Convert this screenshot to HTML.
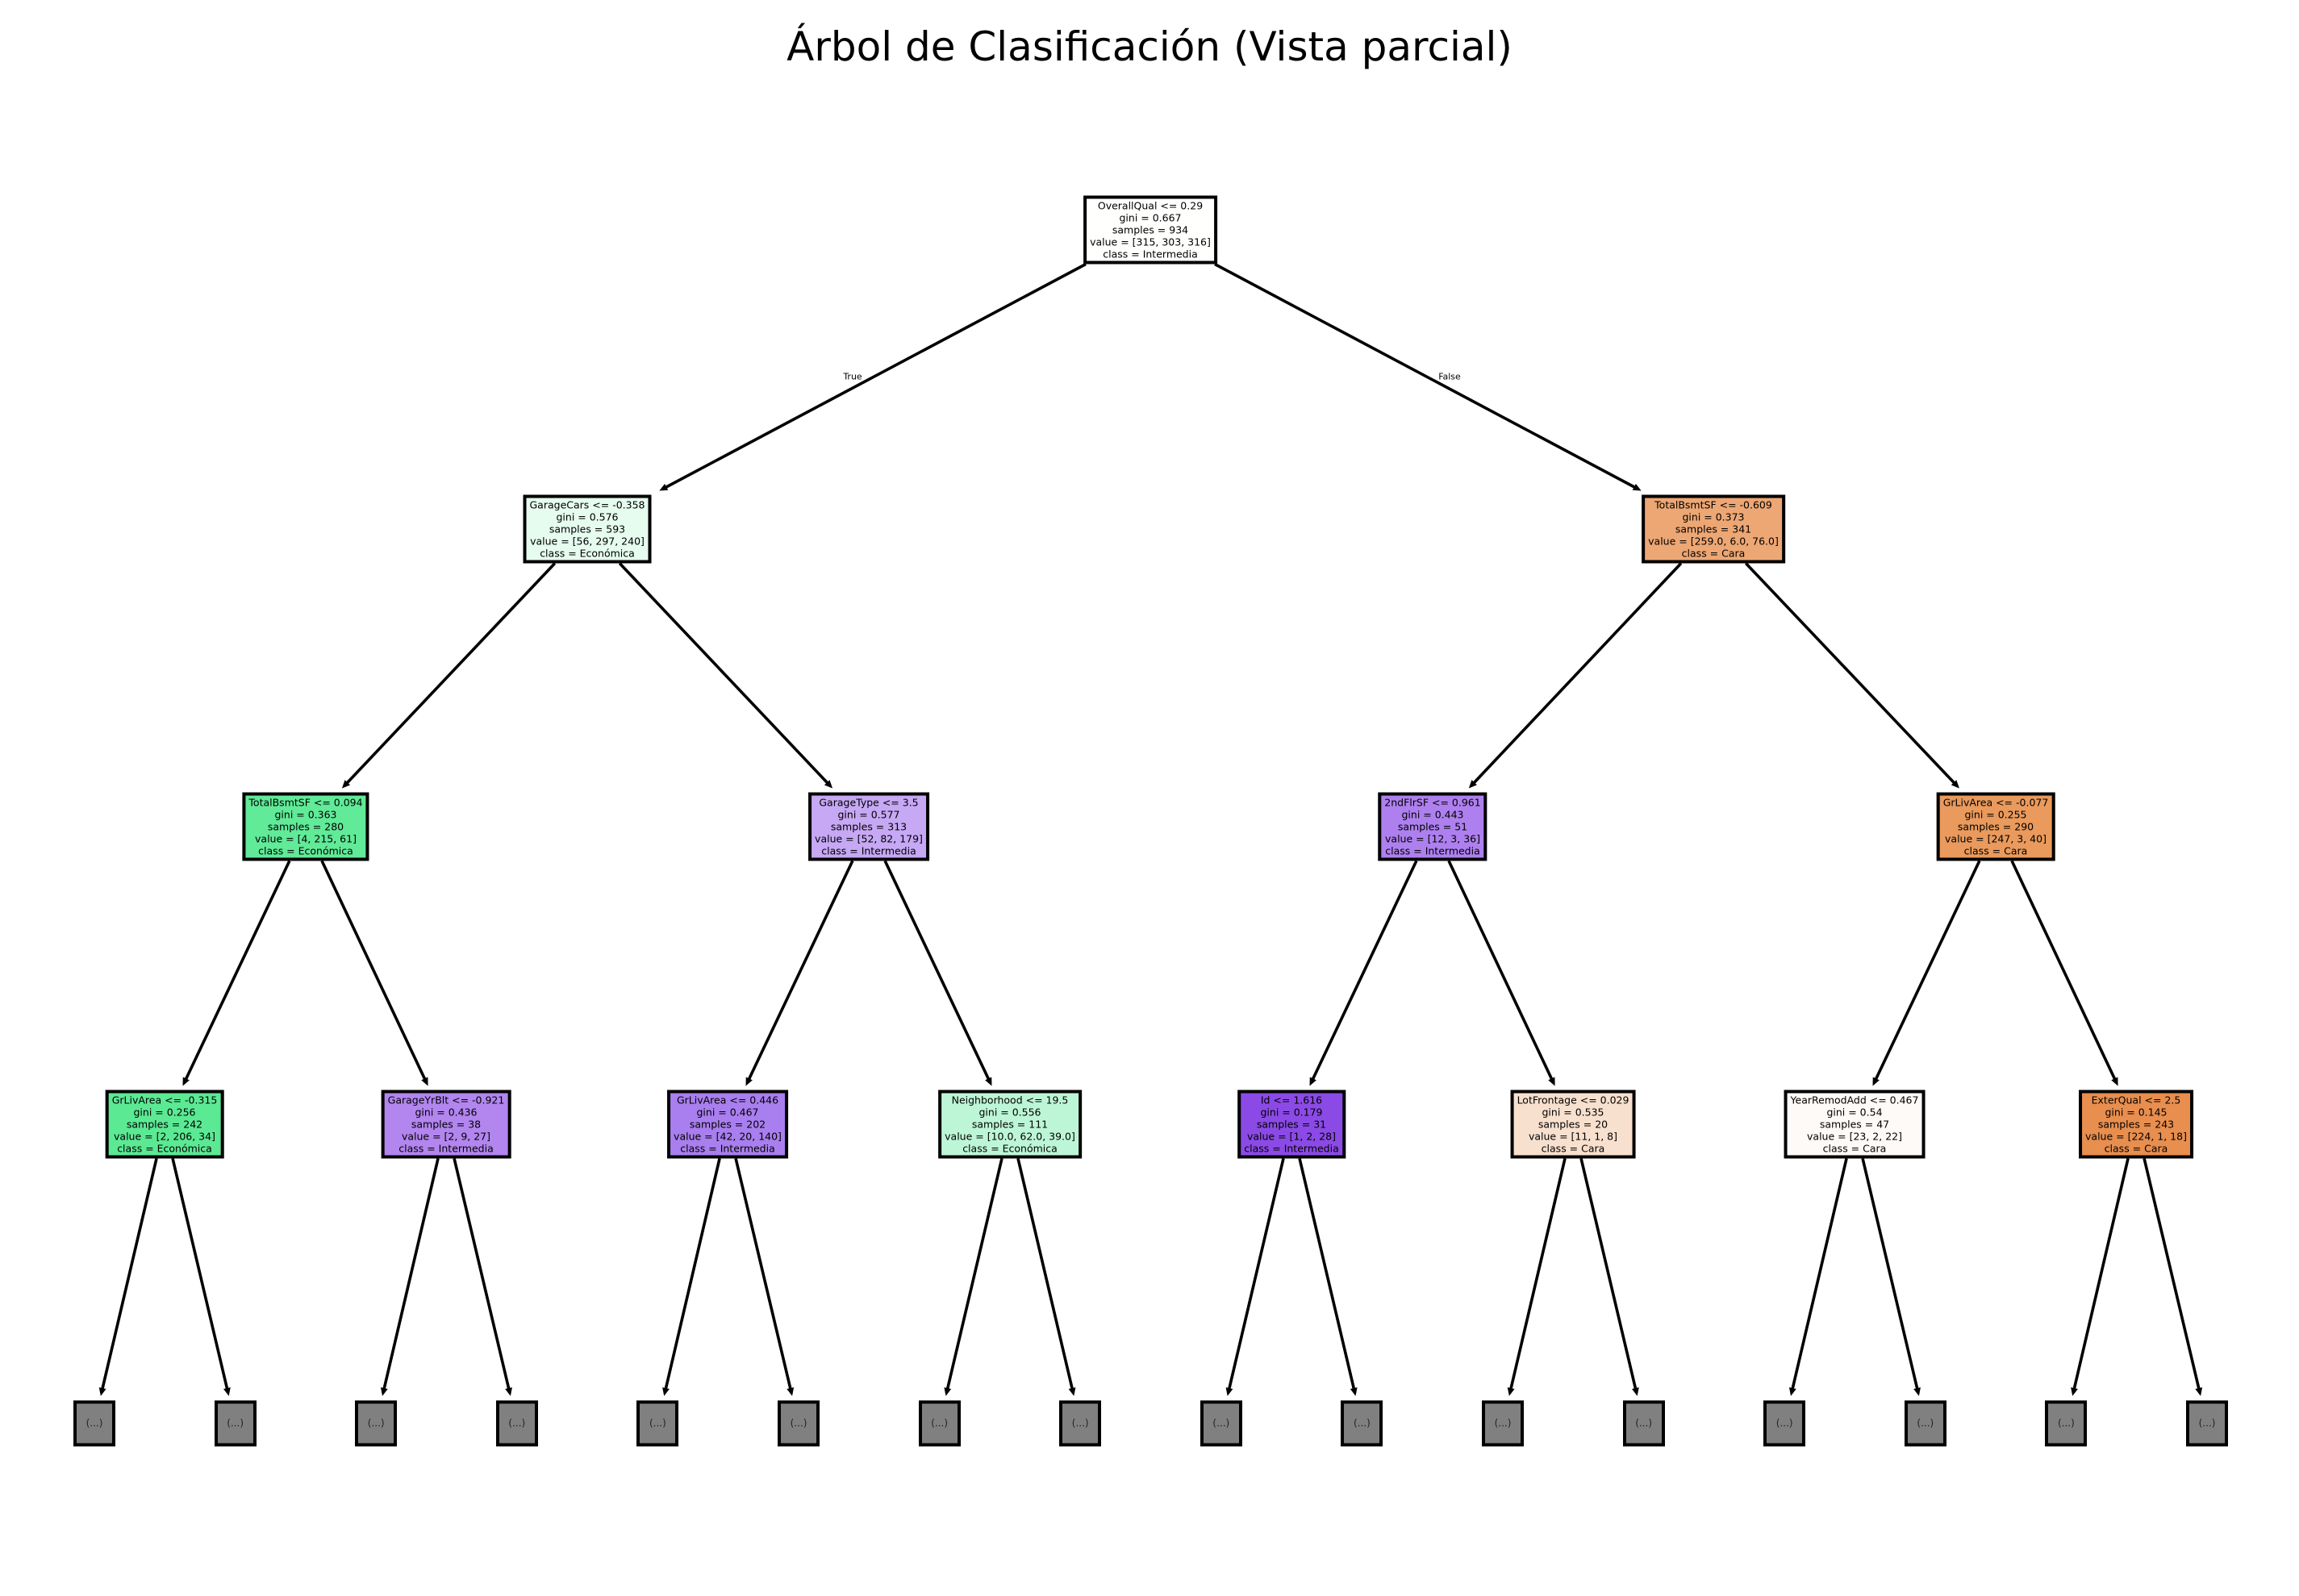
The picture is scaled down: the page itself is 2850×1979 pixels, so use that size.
<!DOCTYPE html>
<html><head><meta charset="utf-8">
<style>
html,body{margin:0;padding:0;background:#fff;}
body{width:2850px;height:1979px;position:relative;overflow:hidden;font-family:"DejaVu Sans","Liberation Sans",sans-serif;}
.n{position:absolute;transform:translate(-50%,-50%);border:4px solid #000;padding:1px 4px;font-size:12.5px;line-height:15px;text-align:center;white-space:nowrap;color:#000;}
.leaf{position:absolute;width:44px;height:49px;transform:translate(-50%,-50%);border:4px solid #000;background:#808080;font-size:12px;line-height:49px;text-align:center;color:#222;}
.t{position:absolute;left:0;width:2850px;top:29px;text-align:center;font-size:50px;}
.el{position:absolute;font-size:11px;transform:translate(-50%,-50%);}
svg{position:absolute;left:0;top:0;}
</style></head><body>
<svg id="s" width="2850" height="1979"></svg>
<div class="t">Árbol de Clasificación (Vista parcial)</div>
<div class="el" style="left:1057px;top:467px">True</div>
<div class="el" style="left:1797px;top:467px">False</div>

<div class="n" style="left:1426px;top:285px;background:#fffffe">OverallQual &lt;= 0.29<br>gini = 0.667<br>samples = 934<br>value = [315, 303, 316]<br>class = Intermedia</div>

<div class="n" style="left:728px;top:656px;background:#e6fcef">GarageCars &lt;= -0.358<br>gini = 0.576<br>samples = 593<br>value = [56, 297, 240]<br>class = Económica</div>
<div class="n" style="left:2124px;top:656px;background:#eda774">TotalBsmtSF &lt;= -0.609<br>gini = 0.373<br>samples = 341<br>value = [259.0, 6.0, 76.0]<br>class = Cara</div>

<div class="n" style="left:379px;top:1025px;background:#61ea98">TotalBsmtSF &lt;= 0.094<br>gini = 0.363<br>samples = 280<br>value = [4, 215, 61]<br>class = Económica</div>
<div class="n" style="left:1077px;top:1025px;background:#c6a8f4">GarageType &lt;= 3.5<br>gini = 0.577<br>samples = 313<br>value = [52, 82, 179]<br>class = Intermedia</div>
<div class="n" style="left:1776px;top:1025px;background:#ae80ef">2ndFlrSF &lt;= 0.961<br>gini = 0.443<br>samples = 51<br>value = [12, 3, 36]<br>class = Intermedia</div>
<div class="n" style="left:2474px;top:1025px;background:#e99a5c">GrLivArea &lt;= -0.077<br>gini = 0.255<br>samples = 290<br>value = [247, 3, 40]<br>class = Cara</div>

<div class="n" style="left:204px;top:1394px;background:#5ce994">GrLivArea &lt;= -0.315<br>gini = 0.256<br>samples = 242<br>value = [2, 206, 34]<br>class = Económica</div>
<div class="n" style="left:553px;top:1394px;background:#b285ef">GarageYrBlt &lt;= -0.921<br>gini = 0.436<br>samples = 38<br>value = [2, 9, 27]<br>class = Intermedia</div>
<div class="n" style="left:902px;top:1394px;background:#a97eee">GrLivArea &lt;= 0.446<br>gini = 0.467<br>samples = 202<br>value = [42, 20, 140]<br>class = Intermedia</div>
<div class="n" style="left:1252px;top:1394px;background:#bdf6d6">Neighborhood &lt;= 19.5<br>gini = 0.556<br>samples = 111<br>value = [10.0, 62.0, 39.0]<br>class = Económica</div>
<div class="n" style="left:1601px;top:1394px;background:#8b4ae6">Id &lt;= 1.616<br>gini = 0.179<br>samples = 31<br>value = [1, 2, 28]<br>class = Intermedia</div>
<div class="n" style="left:1950px;top:1394px;background:#f8e0ce">LotFrontage &lt;= 0.029<br>gini = 0.535<br>samples = 20<br>value = [11, 1, 8]<br>class = Cara</div>
<div class="n" style="left:2299px;top:1394px;background:#fefaf7">YearRemodAdd &lt;= 0.467<br>gini = 0.54<br>samples = 47<br>value = [23, 2, 22]<br>class = Cara</div>
<div class="n" style="left:2648px;top:1394px;background:#e88e4e">ExterQual &lt;= 2.5<br>gini = 0.145<br>samples = 243<br>value = [224, 1, 18]<br>class = Cara</div>

<div id="leaves"></div>
<script>
var s=document.getElementById('s'),ns='http://www.w3.org/2000/svg';
var L=document.getElementById('leaves');
var lv=[[1426],[728,2124],[379,1077,1776,2474],[204,553,902,1252,1601,1950,2299,2648],[]];
for(var i=0;i<16;i++)lv[4].push(117+174.6*i);
var ys=[285,656,1025,1394,1764.5];
var h='';
for(i=0;i<16;i++)h+='<div class="leaf" style="left:'+lv[4][i]+'px;top:1764.5px">(...)</div>';
L.innerHTML=h;
function edge(px,py,cx,cy,ch){
 var y1=py+42.5,y2=cy-ch/2-5;
 var x1=px+(cx-px)*(y1-py)/(cy-py),x2=px+(cx-px)*(y2-py)/(cy-py);
 var dx=x2-x1,dy=y2-y1,len=Math.sqrt(dx*dx+dy*dy),ux=dx/len,uy=dy/len;
 var l=document.createElementNS(ns,'line');
 l.setAttribute('x1',x1);l.setAttribute('y1',y1);l.setAttribute('x2',x2-ux*4);l.setAttribute('y2',y2-uy*4);
 l.setAttribute('stroke','#000');l.setAttribute('stroke-width','3.6');s.appendChild(l);
 var bx=x2-ux*10,by=y2-uy*10,w=4.5;
 var p=document.createElementNS(ns,'polygon');
 p.setAttribute('points',x2+','+y2+' '+(bx-uy*w)+','+(by+ux*w)+' '+(bx+uy*w)+','+(by-ux*w));
 p.setAttribute('fill','#000');s.appendChild(p);
}
for(var d=0;d<4;d++){for(i=0;i<lv[d].length;i++){for(var k=0;k<2;k++){
 edge(lv[d][i],ys[d],lv[d+1][2*i+k],ys[d+1],d==3?57:85);}}}
</script>
</body></html>
